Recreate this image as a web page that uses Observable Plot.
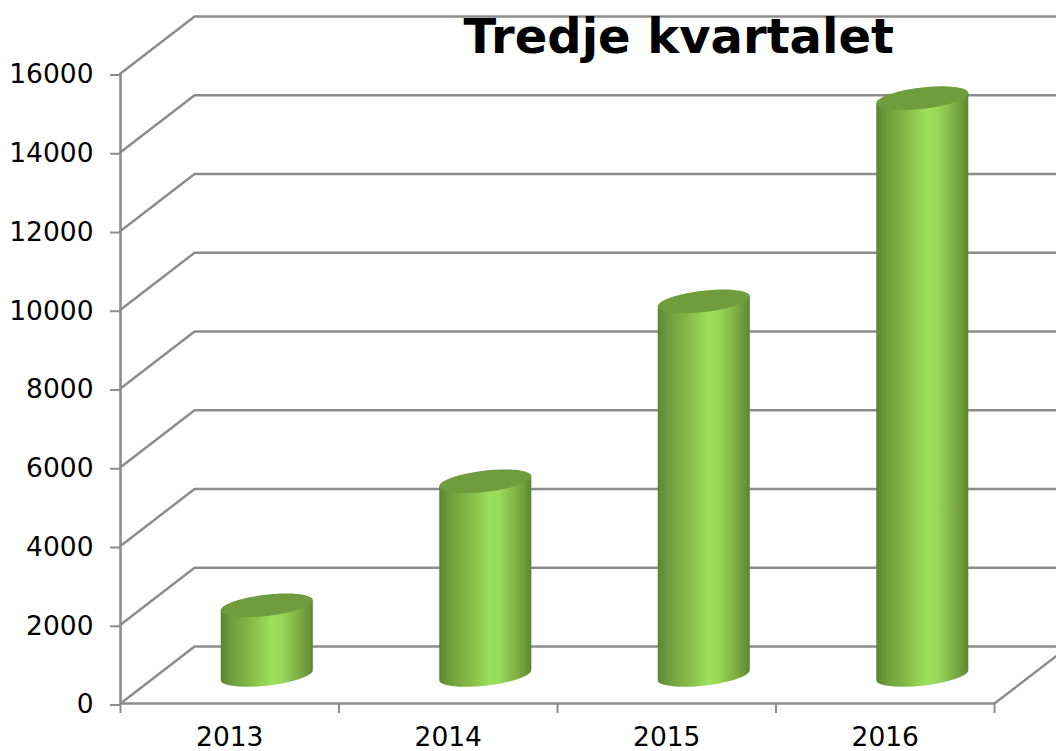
<!DOCTYPE html>
<html><head><meta charset="utf-8">
<style>html,body{margin:0;padding:0;background:#fff}svg{display:block}</style>
<script src="https://cdn.jsdelivr.net/npm/d3@7"></script>
<script src="https://cdn.jsdelivr.net/npm/@observablehq/plot@0.6"></script>
</head><body><div id="chart"></div>
<script>
const years = ["2013", "2014", "2015", "2016"];
const values = [1770, 4920, 9490, 14650];
const yTicks = [0, 2000, 4000, 6000, 8000, 10000, 12000, 14000, 16000];
const chartTitle = "Tredje kvartalet";

// oblique 3D projection, in data units
const depthX = 0.339, depthY = 1448;
const radX = 0.1905, shear = 0.09, radY = 300;
const grey = "#8c8c8c";

const grid = yTicks.flatMap(t => [
  {t, x: 0, y: t},
  {t, x: depthX, y: t + depthY},
  {t, x: 4 + depthX, y: t + depthY}
]);
const floorEdge = [{x: 4, y: 0}, {x: 4 + depthX, y: depthY}];

const tip = Math.atan2(shear, radX);
const cyl = values.map((v, i) => ({i, v, cx: i + 0.5 + depthX / 2}));
const pt = (c, base, t) => ({
  i: c.i,
  x: c.cx + radX * Math.cos(t) + shear * Math.sin(t),
  y: base + depthY / 2 + radY * Math.sin(t)
});
const N = 48;
const bodies = cyl.flatMap(c => {
  const arc = d3.range(N + 1).map(k => pt(c, 0, tip - Math.PI + Math.PI * k / N));
  return [...arc, pt(c, c.v, tip), pt(c, c.v, tip - Math.PI)];
});
const tops = cyl.flatMap(c => d3.range(2 * N).map(k => pt(c, c.v, Math.PI * k / N)));

const defs = () => {
  const s = d3.create("svg:defs");
  const g = s.append("linearGradient").attr("id", "body").attr("x1", 0).attr("x2", 1).attr("y1", 0).attr("y2", 0);
  [[0, "#5a8632"], [0.12, "#6f9e3e"], [0.32, "#84b947"], [0.55, "#9bdf5b"], [0.65, "#98da59"], [0.8, "#84b949"], [0.93, "#6d9a3a"], [1, "#5b8632"]]
    .forEach(([o, c]) => g.append("stop").attr("offset", o).attr("stop-color", c));
  return s.node();
};

const chart = Plot.plot({
  width: 1056, height: 751,
  marginLeft: 120, marginRight: 62, marginTop: 73, marginBottom: 48,
  style: {fontFamily: "DejaVu Sans", background: "#fff", color: "#000"},
  x: {domain: [0, 4]},
  y: {domain: [0, 16000]},
  marks: [
    defs,
    Plot.line(grid, {x: "x", y: "y", z: "t", stroke: grey, strokeWidth: 2.4, strokeLinejoin: "miter"}),
    Plot.line(floorEdge, {x: "x", y: "y", stroke: grey, strokeWidth: 2.4}),
    Plot.ruleY([0], {stroke: grey, strokeWidth: 2.6}),
    Plot.ruleX([0], {stroke: grey, strokeWidth: 2.6}),
    Plot.axisY({ticks: yTicks, tickSize: 10, tickPadding: 17, label: null, tickFormat: d => String(d), fontSize: 26.5, dy: 1.5, stroke: grey, strokeWidth: 2, fill: "#000"}),
    Plot.axisX({ticks: [0, 1, 2, 3, 4], tickSize: 10, tickFormat: () => "", label: null, stroke: grey, strokeWidth: 2}),
    Plot.text(years, {x: (d, i) => i + 0.5, y: 0, dy: 34.5, text: d => d, fontSize: 26.5, fill: "#000"}),
    Plot.line(bodies, {x: "x", y: "y", z: "i", fill: "url(#body)", stroke: "none"}),
    Plot.line(tops, {x: "x", y: "y", z: "i", fill: "#6f9c3c", stroke: "none"}),
    Plot.text([chartTitle], {x: 2.555, y: 16900, text: d => d, fontSize: 48, fontWeight: "bold", fill: "#000"})
  ]
});
document.getElementById("chart").append(chart);
</script></body></html>
